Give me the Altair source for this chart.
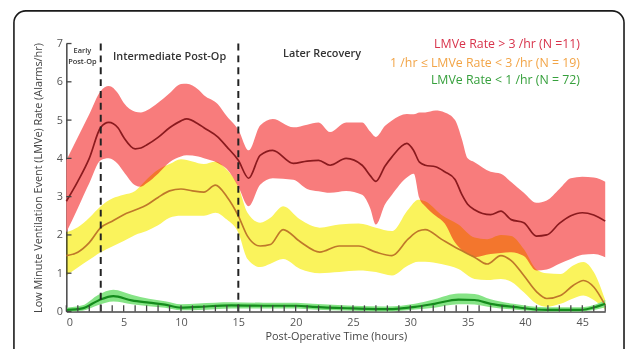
import altair as alt
import pandas as pd

# ---------------- data ----------------
red_t = [0, 1, 2, 3, 3.7, 4.5, 5, 6, 6.5, 7, 8, 9, 10, 10.5, 11.5, 12, 13.2, 14, 15, 15.9,
         16.9, 18, 19.8, 21, 22, 23, 24.4, 25.8, 26.5, 27, 27.8, 28.4, 29.7, 30.3, 30.8, 31.3,
         32.2, 33, 33.9, 34.5, 35, 35.6, 37, 37.9, 38.8, 39.9, 41, 41.9, 43, 44, 45, 46, 47]
red_hi = [3.95, 4.55, 5.15, 5.76, 5.89, 5.7, 5.45, 5.22, 5.2, 5.25, 5.45, 5.7, 5.94, 5.95, 5.8,
          5.65, 5.42, 5.1, 4.75, 4.21, 4.86, 5.03, 4.81, 4.88, 4.94, 4.69, 4.94, 4.94, 4.7, 4.56,
          4.85, 4.99, 5.16, 5.15, 5.2, 5.2, 5.25, 5.2, 5.0, 4.5, 4.0, 3.9, 3.65, 3.6, 3.38, 3.1,
          2.84, 2.9, 3.2, 3.48, 3.52, 3.5, 3.39]
red_lo = [2.07, 2.7, 3.35, 3.95, 4.0, 3.85, 3.65, 3.3, 3.26, 3.35, 3.6, 3.9, 4.05, 4.08, 4.05,
          4.0, 3.88, 3.72, 3.26, 2.75, 3.31, 3.48, 3.44, 3.2, 3.14, 3.1, 3.15, 3.05, 2.7, 2.27,
          2.8, 3.05, 3.5, 3.6, 2.96, 2.75, 2.5, 2.3, 1.8, 1.6, 1.5, 1.42, 1.5, 1.53, 1.55, 1.45,
          1.07, 1.1, 1.25, 1.37, 1.48, 1.5, 1.42]
red_mean = [2.88, 3.4, 4.0, 4.81, 4.94, 4.8, 4.55, 4.25, 4.27, 4.35, 4.55, 4.8, 4.98, 5.03, 4.9,
            4.8, 4.56, 4.3, 3.95, 3.48, 4.08, 4.21, 3.87, 3.93, 3.95, 3.82, 4.0, 3.82, 3.55, 3.4,
            3.8, 4.04, 4.39, 4.2, 3.9, 3.82, 3.78, 3.65, 3.45, 3.05, 2.8, 2.66, 2.53, 2.62, 2.4,
            2.32, 1.97, 2.0, 2.3, 2.5, 2.58, 2.52, 2.36]

yel_t = [0, 1, 2, 3, 4, 5, 6, 7, 8, 9, 10, 11, 12, 13, 14, 15, 15.8, 16.9, 17.8, 18.9, 20.4,
         22.1, 23.8, 25.5, 27, 28.4, 29.8, 30.7, 31.3, 32.7, 34.2, 35.6, 36.7, 37.9, 38.8, 39.9,
         41, 41.9, 43.1, 44.2, 45.1, 46, 47]
yel_mean = [1.46, 1.55, 1.8, 2.19, 2.36, 2.53, 2.65, 2.78, 2.98, 3.15, 3.2, 3.15, 3.12, 3.3, 3.0,
            2.5, 1.97, 1.71, 1.75, 2.14, 1.82, 1.55, 1.71, 1.71, 1.55, 1.46, 1.89, 2.1, 2.14,
            1.89, 1.63, 1.42, 1.24, 1.46, 1.33, 0.94, 0.52, 0.34, 0.42, 0.68, 0.81, 0.64, 0.16]
yel_hi = [2.07, 2.2, 2.45, 2.75, 2.95, 3.05, 3.15, 3.45, 3.7, 3.85, 3.98, 3.92, 3.85, 3.92, 3.7,
          3.26, 2.58, 2.32, 2.45, 2.75, 2.4, 2.19, 2.27, 2.3, 2.19, 2.1, 2.66, 2.92, 2.88, 2.53,
          2.27, 1.93, 1.89, 2.0, 1.97, 1.63, 1.1, 1.0, 0.98, 1.2, 1.29, 1.03, 0.3]
yel_lo = [0.94, 1.15, 1.35, 1.55, 1.7, 1.84, 2.0, 2.1, 2.25, 2.45, 2.5, 2.5, 2.5, 2.58, 2.4,
          2.06, 1.37, 1.16, 1.25, 1.37, 1.11, 1.0, 1.03, 1.07, 1.03, 0.94, 1.2, 1.3, 1.3, 1.24,
          1.11, 0.85, 0.82, 0.85, 0.78, 0.5, 0.2, 0.12, 0.2, 0.34, 0.42, 0.3, 0.05]

grn_t = [0, 1.4, 2.8, 4.1, 5.7, 7.2, 8.6, 10, 11.5, 14.4, 17.2, 20.1, 21.5, 25, 28, 30.4, 32.1,
         34.2, 35.6, 37, 39, 41.9, 44.8, 46.2, 47]
grn_mean = [0.04, 0.08, 0.29, 0.4, 0.29, 0.23, 0.18, 0.1, 0.12, 0.16, 0.15, 0.15, 0.12, 0.08,
            0.06, 0.12, 0.2, 0.31, 0.3, 0.2, 0.12, 0.04, 0.04, 0.12, 0.2]
grn_hi = [0.1, 0.16, 0.44, 0.57, 0.44, 0.33, 0.27, 0.19, 0.21, 0.24, 0.23, 0.23, 0.2, 0.15,
          0.13, 0.2, 0.32, 0.47, 0.46, 0.32, 0.2, 0.11, 0.11, 0.19, 0.3]
grn_lo = [0.0, 0.02, 0.17, 0.26, 0.19, 0.14, 0.1, 0.03, 0.04, 0.08, 0.08, 0.08, 0.05, 0.02,
          0.0, 0.05, 0.1, 0.19, 0.18, 0.11, 0.05, 0.0, 0.0, 0.05, 0.11]

phase_bounds = [3, 15]
x_ticks = list(range(0, 48))
y_ticks = list(range(0, 8))
x_labels = list(range(0, 50, 5))

legend_labels = ["LMVe Rate > 3 /hr (N =11)", "1 /hr \u2264 LMVe Rate < 3 /hr (N = 19)",
                 "LMVe Rate < 1 /hr (N = 72)"]
legend_colors = ["#D8334B", "#F2A446", "#36A03C"]
legend_y = [6.98, 6.5, 6.04]

phase_labels = ["Intermediate Post-Op", "Later Recovery"]
phase_x = [9.0, 22.3]
phase_y = [6.66, 6.72]

FONT = "Open Sans"

# ---------------- frames ----------------
red = pd.DataFrame({"t": red_t, "lo": red_lo, "hi": red_hi, "m": red_mean})
yel = pd.DataFrame({"t": yel_t, "lo": yel_lo, "hi": yel_hi, "m": yel_mean})
grn = pd.DataFrame({"t": grn_t, "lo": grn_lo, "hi": grn_hi, "m": grn_mean})

xs = alt.Scale(domain=[0, 47], nice=False, zero=False)
ys = alt.Scale(domain=[0, 7], nice=False)

XAX = alt.Axis(title="Post-Operative Time (hours)", values=x_labels, ticks=False,
               labelPadding=5, titlePadding=3, labelOverlap=False)
YAX = alt.Axis(title="Low Minute Ventilation Event (LMVe) Rate (Alarms/hr)", values=y_ticks,
               tickCount=8, ticks=False, labelPadding=4, titlePadding=13, labelOverlap=False,
               labelFlush=False)


def xf(f):
    return alt.X(f, type="quantitative", scale=xs, axis=XAX)


def yf(f):
    return alt.Y(f, type="quantitative", scale=ys, axis=YAX)


def band(df, color, blend=None):
    kw = {"color": color, "interpolate": "monotone", "opacity": 1}
    if blend:
        kw["blend"] = blend
    return alt.Chart(df).mark_area(**kw).encode(x=xf("t"), y=yf("lo"), y2="hi:Q")


def mline(df, color, w):
    return alt.Chart(df).mark_line(color=color, strokeWidth=w, interpolate="monotone").encode(
        x=xf("t"), y=yf("m"))


red_band = band(red, "#F87C7C")
yel_band = band(yel, "#FAF35C", blend="multiply")
grn_band = band(grn, "#86E486")

red_line = mline(red, "#8A1A1E", 1.7)
yel_line = mline(yel, "#BF782A", 1.7)
grn_line = mline(grn, "#148C1C", 2.2)

phase_df = pd.DataFrame({"b": phase_bounds, "y0": [0, 0], "y1": [7, 7]})
dashes = alt.Chart(phase_df).mark_rule(color="#222222", strokeWidth=2, strokeDash=[7, 5]).encode(
    x=xf("b"), y=yf("y0"), y2="y1:Q")

xt = pd.DataFrame({"v": x_ticks, "y0": [0.0] * len(x_ticks), "y1": [0.16] * len(x_ticks)})
xtick_marks = alt.Chart(xt).mark_rule(color="#444444", strokeWidth=1.3).encode(
    x=xf("v"), y=yf("y0"), y2="y1:Q")
yt = pd.DataFrame({"v": y_ticks, "x0": [0.0] * len(y_ticks), "x1": [0.45] * len(y_ticks)})
ytick_marks = alt.Chart(yt).mark_rule(color="#444444", strokeWidth=1.3).encode(
    y=yf("v"), x=xf("x0"), x2="x1:Q")

leg_df = pd.DataFrame({"label": legend_labels, "c": legend_colors, "y": legend_y,
                       "x": [44.8] * 3})
legend_text = alt.Chart(leg_df).mark_text(align="right", baseline="middle", font=FONT,
                                          fontSize=12.5, fontWeight=500).encode(
    x=xf("x"), y=yf("y"), text="label:N", color=alt.Color("c:N", scale=None))

ph_df = pd.DataFrame({"label": phase_labels, "x": phase_x, "y": phase_y})
phase_text = alt.Chart(ph_df).mark_text(align="center", baseline="middle", font=FONT,
                                        fontSize=11, fontWeight=600, color="#333333").encode(
    x=xf("x"), y=yf("y"), text="label:N")

early_df = pd.DataFrame({"label": ["Early", "Post-Op"], "x": [1.4, 1.4], "y": [6.8, 6.52]})
early_text = alt.Chart(early_df).mark_text(align="center", baseline="middle", font=FONT,
                                           fontSize=7.5, fontWeight=600, color="#333333").encode(
    x=xf("x"), y=yf("y"), text="label:N")

frame = alt.Chart(pd.DataFrame({"k": [0]})).mark_rect(
    fill=None, stroke="#1a1a1a", strokeWidth=1.6, cornerRadius=12).encode(
    x=alt.value(-53), x2=alt.value(564), y=alt.value(-33), y2=alt.value(420))

chart = alt.layer(
    red_band, yel_band, grn_band, red_line, yel_line, grn_line,
    dashes, xtick_marks, ytick_marks, legend_text, phase_text, early_text, frame
).properties(
    width=545, height=271,
    autosize=alt.AutoSizeParams(type="none"),
    padding={"left": 59, "top": 34, "right": 20, "bottom": 36},
    background="white",
).configure_view(stroke=None).configure_axis(
    grid=False, domainColor="#444444", domainWidth=1.5,
    labelFont=FONT, labelFontSize=11, labelColor="#555555",
    titleFont=FONT, titleFontSize=11, titleColor="#444444", titleFontWeight="normal",
)

chart.save("out.html", embed_options={"renderer": "svg", "actions": False})
